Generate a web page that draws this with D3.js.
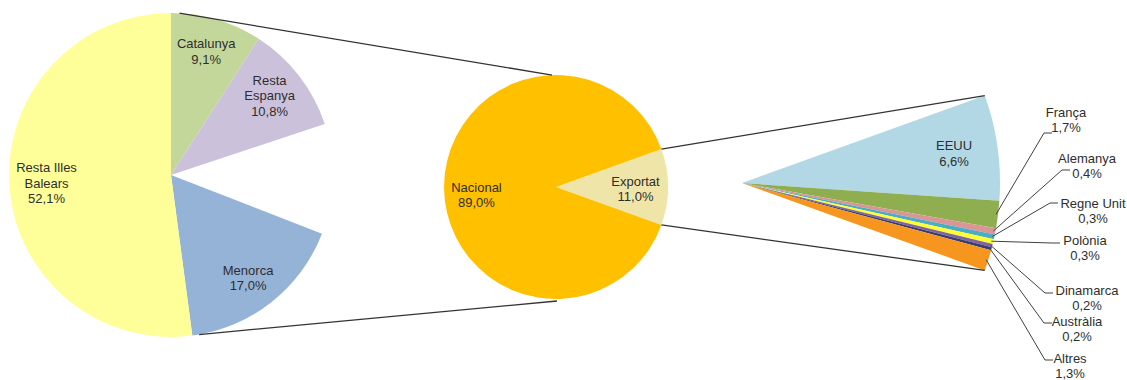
<!DOCTYPE html>
<html>
<head>
<meta charset="utf-8">
<script src="https://cdn.jsdelivr.net/npm/d3@7"></script>
<style>
    body { margin: 0; background: #ffffff; }
    text { font-family: "Liberation Sans", Arial, sans-serif; font-size: 13px; fill: #2e2e2e; }
</style>
</head>
<body>
<script>
// Chart data: destination of sales (percent of total).
var nationalNames = ["Catalunya", "Resta Espanya", "Menorca", "Resta Illes Balears"];
var nationalValues = [9.1, 10.8, 17.0, 52.1];

var splitNames = ["Exportat", "Nacional"];
var splitValues = [11.0, 89.0];

var exportNames = ["EEUU", "França", "Alemanya", "Regne Unit", "Polònia", "Dinamarca", "Austràlia", "Altres"];
var exportValues = [6.6, 1.7, 0.4, 0.3, 0.3, 0.2, 0.2, 1.3];

// Colours per slice.
var nationalColors = ["#c4d79b", "#ccc1da", "#95b3d7", "#ffff99"];
var splitColors = ["#f0e5a8", "#ffc000"];
var exportColors = ["#b2d8e6", "#8fae50", "#d99694", "#4bacc6", "#ffff33", "#8064a2", "#3d3d6b", "#f7961e"];

// Where Excel wraps the long category names.
var wraps = {
    "Resta Espanya": ["Resta", "Espanya"],
    "Resta Illes Balears": ["Resta Illes", "Balears"]
};

// Small vertical nudges of inside labels, to match where Excel put them.
var nudges = { "Catalunya": -4, "Resta Espanya": -3, "Menorca": 5, "Nacional": 8, "Exportat": 2 };

// Hand placed outside labels for the small export slices (first line centre, leader tail end).
var outsideSpots = [
    null,
    { x: 1066, y: 112, tx: 1052, ty: 133 },
    { x: 1087, y: 158, tx: 1070, ty: 170 },
    { x: 1093, y: 203, tx: 1058, ty: 203 },
    { x: 1085, y: 240, tx: 1060, ty: 243 },
    { x: 1087, y: 290, tx: 1053, ty: 293 },
    { x: 1077, y: 321, tx: 1052, ty: 323 },
    { x: 1070, y: 358, tx: 1053, ty: 360 }
];

var width = 1127;
var height = 380;
var lineH = 15.5;

var fmt = function (v) { return d3.format(".1f")(v).replace(".", ",") + "%"; };

var svg = d3.select("body").append("svg")
            .attr("width", width)
            .attr("height", height);

// Point on a circle, angle measured clockwise from 12 o'clock.
function polar (c, r, a) {
    return [c[0] + r * Math.sin(a), c[1] - r * Math.cos(a)];
}

function addLabel (g, x, y, lines) {
    var t = g.append("text")
             .attr("text-anchor", "middle")
             .attr("x", x)
             .attr("y", y - (lines.length - 1) * lineH / 2 + 4.5);
    lines.forEach(function (l, i) {
        t.append("tspan")
         .attr("x", x)
         .attr("dy", i ? lineH : 0)
         .text(l);
    });
}

// Pie geometry.
var leftC = [171, 175], leftR = 162;
var midC = [556, 187], midR = 112;
var rightC = [742, 183], rightR = 258;

var splitTotal = d3.sum(splitValues);
var exportAngle = 2 * Math.PI * splitValues[0] / splitTotal;
var startA = Math.PI / 2 - exportAngle / 2;

// Left pie: national breakdown, with an empty wedge where the exports sit.
var leftData = [
    { name: nationalNames[0], value: nationalValues[0], color: nationalColors[0] },
    { name: nationalNames[1], value: nationalValues[1], color: nationalColors[1] },
    { name: null, value: splitValues[0] },
    { name: nationalNames[2], value: nationalValues[2], color: nationalColors[2] },
    { name: nationalNames[3], value: nationalValues[3], color: nationalColors[3] }
];
var leftPie = d3.pie().sort(null).value(function (d) { return d.value; })(leftData);

var leftArc = d3.arc().innerRadius(0).outerRadius(leftR);
var gLeft = svg.append("g").attr("transform", "translate(" + leftC + ")");
gLeft.selectAll("path")
     .data(leftPie.filter(function (d) { return d.data.name; }))
     .enter().append("path")
     .attr("d", leftArc)
     .attr("fill", function (d) { return d.data.color; });

// Middle pie: national vs export.
var midData = splitNames.map(function (n, i) {
    return { name: n, value: splitValues[i], color: splitColors[i] };
});
var midPie = d3.pie().sort(null).value(function (d) { return d.value; })
               .startAngle(startA).endAngle(startA + 2 * Math.PI)(midData);
var midArc = d3.arc().innerRadius(0).outerRadius(midR);
var gMid = svg.append("g").attr("transform", "translate(" + midC + ")");
gMid.selectAll("path")
    .data(midPie)
    .enter().append("path")
    .attr("d", midArc)
    .attr("fill", function (d) { return d.data.color; });

// Right pie: export breakdown, the national part is left blank.
var rightData = exportNames.map(function (n, i) {
    return { name: n, value: exportValues[i], color: exportColors[i] };
});
rightData.push({ name: null, value: splitValues[1] });
var rightPie = d3.pie().sort(null).value(function (d) { return d.value; })
                 .startAngle(startA).endAngle(startA + 2 * Math.PI)(rightData);
var rightArc = d3.arc().innerRadius(0).outerRadius(rightR);
var gRight = svg.append("g").attr("transform", "translate(" + rightC + ")");
gRight.selectAll("path")
      .data(rightPie.filter(function (d) { return d.data.name; }))
      .enter().append("path")
      .attr("d", rightArc)
      .attr("fill", function (d) { return d.data.color; });

// Connector lines between the pies.
var lines = svg.append("g")
               .attr("stroke", "#333333")
               .attr("stroke-width", 1.3)
               .attr("fill", "none");
var deg = Math.PI / 180;
var connectors = [
    [polar(leftC, leftR, 3 * deg), polar(midC, midR, -2 * deg)],
    [polar(leftC, leftR, 170 * deg), polar(midC, midR + 2, 179.5 * deg)],
    [polar(midC, midR, midPie[0].startAngle), polar(rightC, rightR, rightPie[0].startAngle)],
    [polar(midC, midR, midPie[0].endAngle), polar(rightC, rightR, rightPie[exportNames.length - 1].endAngle)]
];
connectors.forEach(function (c) {
    lines.append("line")
         .attr("x1", c[0][0]).attr("y1", c[0][1])
         .attr("x2", c[1][0]).attr("y2", c[1][1]);
});

// Inside labels.
var labels = svg.append("g");
leftPie.forEach(function (d) {
    if (!d.data.name) return;
    var p = polar(leftC, leftR * 0.77, (d.startAngle + d.endAngle) / 2);
    var name = wraps[d.data.name] || [d.data.name];
    addLabel(labels, p[0], p[1] + (nudges[d.data.name] || 0), name.concat([fmt(d.data.value)]));
});
midPie.forEach(function (d) {
    var p = polar(midC, midR * 0.71, (d.startAngle + d.endAngle) / 2);
    addLabel(labels, p[0], p[1] + (nudges[d.data.name] || 0), [d.data.name, fmt(d.data.value)]);
});
var first = rightPie[0];
var pe = polar(rightC, rightR * 0.83, (first.startAngle + first.endAngle) / 2);
addLabel(labels, pe[0], pe[1], [first.data.name, fmt(first.data.value)]);

// Outside labels with leader lines for the small export slices.
var leaders = svg.append("g")
                 .attr("stroke", "#404040")
                 .attr("stroke-width", 1)
                 .attr("fill", "none");
rightPie.forEach(function (d, i) {
    var spot = outsideSpots[i];
    if (!d.data.name || !spot) return;
    var s = polar(rightC, rightR - 2, (d.startAngle + d.endAngle) / 2);
    leaders.append("polyline")
           .attr("points", [s, [spot.tx - 8, spot.ty], [spot.tx, spot.ty]].join(" "));
    addLabel(labels, spot.x, spot.y + lineH / 2, [d.data.name, fmt(d.data.value)]);
});
</script>
</body>
</html>
